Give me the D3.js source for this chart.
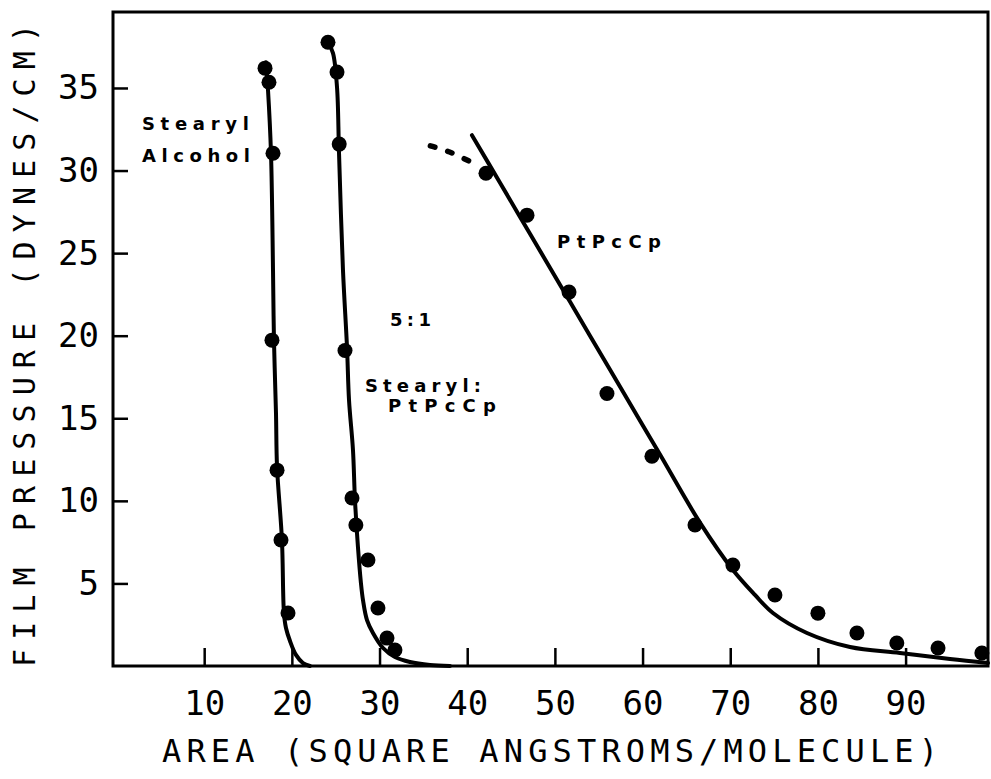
<!DOCTYPE html>
<html>
<head>
<meta charset="utf-8">
<script src="https://cdn.jsdelivr.net/npm/d3@7"></script>
<style>
  html, body { margin: 0; padding: 0; background: #fff; }
  svg { display: block; }
</style>
</head>
<body>
<svg id="chart" width="991" height="779"></svg>
<script>
// ---- Data ----
const xTicks = [10, 20, 30, 40, 50, 60, 70, 80, 90];
const yTicks = [5, 10, 15, 20, 25, 30, 35];

// Stearyl alcohol
const stearylPoints = [[16.94, 36.2], [17.39, 35.35], [17.85, 31.05], [17.73, 19.73], [18.31, 11.86], [18.76, 7.63], [19.56, 3.21]];
const stearylCurve = [[17.05, 36.56], [17.28, 34.87], [17.62, 31.05], [17.85, 23.97], [17.96, 19.73], [18.19, 15.32], [18.31, 12.05], [18.87, 7.63], [19.1, 3.21], [19.33, 2.3], [19.79, 1.51], [20.47, 0.67], [21.27, 0.18], [22.07, 0]];

// 5:1 Stearyl : PtPcCp
const mixPoints = [[24.12, 37.77], [25.15, 35.96], [25.4, 31.6], [26.06, 19.1], [26.86, 10.17], [27.3, 8.54], [28.68, 6.42], [29.82, 3.51], [30.85, 1.69], [31.76, 0.97]];
const mixCurve = [[24.12, 37.77], [24.69, 37.11], [25.15, 35.05], [25.38, 31.05], [25.83, 23.97], [26.29, 19.31], [26.52, 16.1], [26.97, 13.08], [27.2, 10.05], [27.54, 7.2], [27.88, 5.02], [28.11, 4.0], [28.57, 2.78], [29.25, 2.0], [30.4, 1.09], [31.76, 0.54], [33.47, 0.24], [35.75, 0.06], [38.03, 0]];

// PtPcCp
const ptPoints = [[42.14, 29.84], [46.82, 27.3], [51.61, 22.64], [55.94, 16.5], [61.07, 12.7], [65.98, 8.54], [70.3, 6.11], [75.1, 4.3], [80.0, 3.2], [84.45, 2.0], [89.0, 1.39], [93.7, 1.09], [98.7, 0.79]];
const ptCurve = [[40.54, 32.14], [43.74, 29.26], [47.16, 26.17], [50.58, 23.09], [54.0, 20.0], [58.34, 16.09], [61.99, 12.8], [66.55, 8.68], [70.31, 5.81], [72.82, 4.3], [74.87, 3.21], [78.75, 2.0], [83.66, 1.15], [89.36, 0.79], [95.06, 0.42], [99.4, 0.18]];
const ptDotted = [[35.8, 31.5], [38.0, 31.12], [40.3, 30.55]];

const labels = [
  { text: "Stearyl", x: 2.9, y: 32.45, len: 107 },
  { text: "Alcohol", x: 2.9, y: 30.5, len: 108 },
  { text: "5:1", x: 31.19, y: 20.58, len: 41 },
  { text: "Stearyl:", x: 28.34, y: 16.6, len: 116 },
  { text: "PtPcCp", x: 30.96, y: 15.37, len: 108 },
  { text: "PtPcCp", x: 50.24, y: 25.3, len: 104 }
];

const xTitle = "AREA (SQUARE ANGSTROMS/MOLECULE)";
const yTitle = "FILM PRESSURE (DYNES/CM)";

// ---- Layout ----
const L = 113, R = 988, T = 12, B = 666;
const svg = d3.select("#chart");
const x = d3.scaleLinear().domain([-0.4, 99.4]).range([L, R]);
const y = d3.scaleLinear().domain([0, 39.6]).range([B, T]);
const mono = "'DejaVu Sans Mono', monospace";

// frame
svg.append("rect")
  .attr("x", x.range()[0]).attr("y", y.range()[1])
  .attr("width", x.range()[1] - x.range()[0])
  .attr("height", y.range()[0] - y.range()[1])
  .attr("fill", "none").attr("stroke", "#000").attr("stroke-width", 3);

// axes
const xAxis = svg.append("g")
  .attr("transform", `translate(0,${B})`)
  .call(d3.axisBottom(x).tickValues(xTicks).tickSize(-18).tickPadding(25).tickSizeOuter(0));
xAxis.select(".domain").remove();
xAxis.selectAll("line").attr("stroke", "#000").attr("stroke-width", 2.5);
xAxis.selectAll("text").attr("font-family", mono).attr("font-size", 34).attr("fill", "#000");

const yAxis = svg.append("g")
  .attr("transform", `translate(${L},0)`)
  .call(d3.axisLeft(y).tickValues(yTicks).tickSize(-15).tickPadding(14).tickSizeOuter(0));
yAxis.select(".domain").remove();
yAxis.selectAll("line").attr("stroke", "#000").attr("stroke-width", 2.5);
yAxis.selectAll("text").attr("font-family", mono).attr("font-size", 34).attr("fill", "#000");

// axis titles
svg.append("text")
  .attr("x", 162).attr("y", 762)
  .attr("font-family", mono).attr("font-size", 32)
  .attr("textLength", 776).attr("lengthAdjust", "spacing")
  .attr("fill", "#000")
  .text(xTitle);

svg.append("text")
  .attr("transform", "translate(35,667) rotate(-90)")
  .attr("font-family", mono).attr("font-size", 30)
  .attr("textLength", 643).attr("lengthAdjust", "spacing")
  .attr("fill", "#000")
  .text(yTitle);

// curves
const line = d3.line().x(d => x(d[0])).y(d => y(d[1])).curve(d3.curveCatmullRom.alpha(0.5));
[stearylCurve, mixCurve, ptCurve].forEach(c => {
  svg.append("path").attr("d", line(c))
    .attr("fill", "none").attr("stroke", "#000").attr("stroke-width", 4)
    .attr("stroke-linecap", "round").attr("stroke-linejoin", "round");
});
svg.append("path").attr("d", d3.line().x(d => x(d[0])).y(d => y(d[1])).curve(d3.curveCatmullRom)(ptDotted))
  .attr("fill", "none").attr("stroke", "#000").attr("stroke-width", 5.5)
  .attr("stroke-linecap", "round").attr("stroke-dasharray", "5 13");

// points
[stearylPoints, mixPoints, ptPoints].forEach(pts => {
  svg.append("g").selectAll("circle").data(pts).join("circle")
    .attr("cx", d => x(d[0])).attr("cy", d => y(d[1])).attr("r", 7.5)
    .attr("fill", "#000");
});

// series labels
svg.append("g").selectAll("text").data(labels).join("text")
  .attr("x", d => x(d.x)).attr("y", d => y(d.y))
  .attr("font-family", "'DejaVu Sans', sans-serif")
  .attr("font-weight", "bold").attr("font-size", 18)
  .attr("textLength", d => d.len).attr("lengthAdjust", "spacing")
  .attr("fill", "#000")
  .text(d => d.text);
</script>
</body>
</html>
